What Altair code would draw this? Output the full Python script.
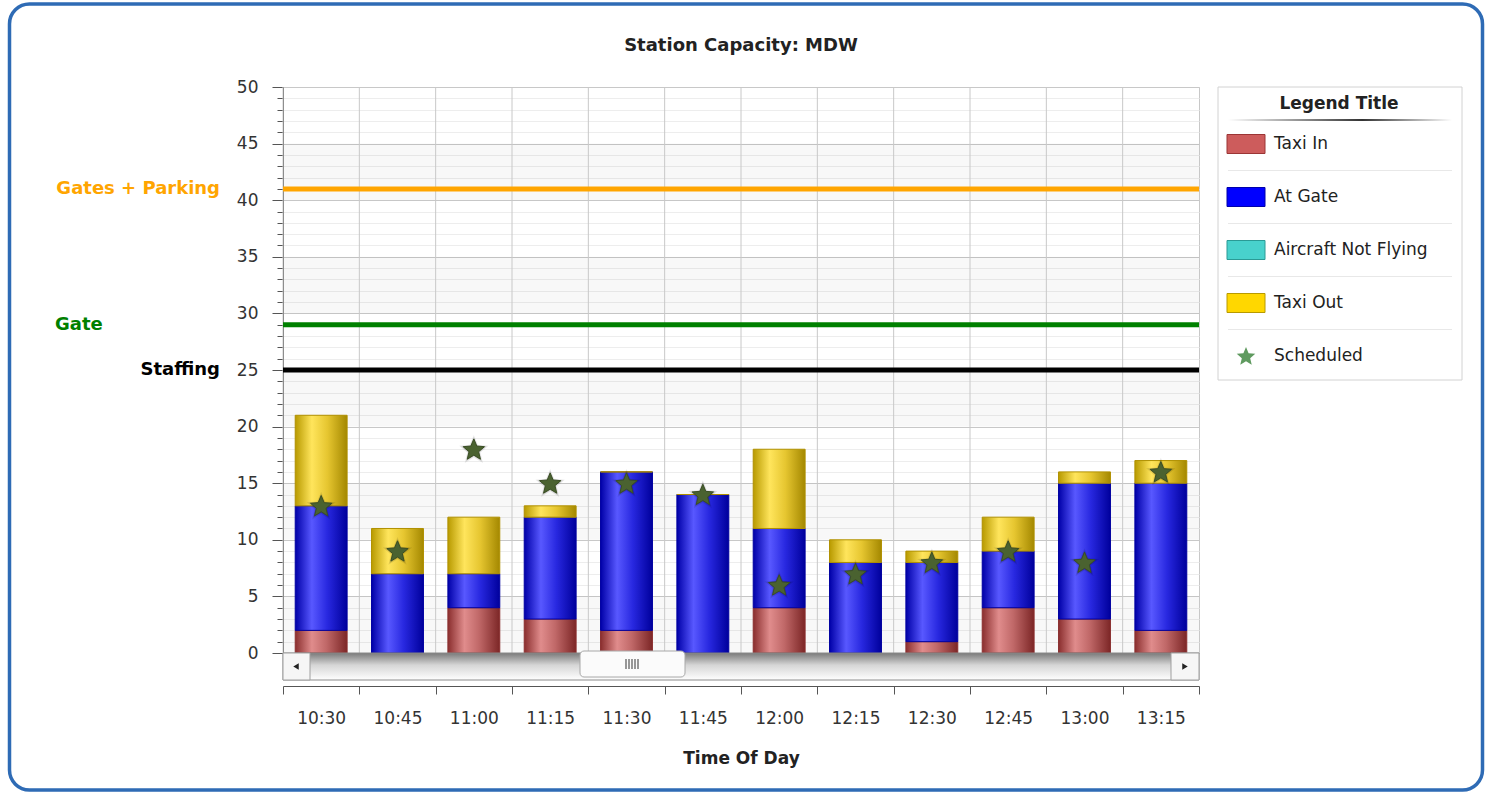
import math
import altair as alt
import pandas as pd

# ---------------- data ----------------
times = ["10:30", "10:45", "11:00", "11:15", "11:30", "11:45",
         "12:00", "12:15", "12:30", "12:45", "13:00", "13:15"]
taxi_in = [2, 0, 4, 3, 2, 0, 4, 0, 1, 4, 3, 2]
at_gate = [11, 7, 3, 9, 14, 14, 7, 8, 7, 5, 12, 13]
taxi_out = [8, 4, 5, 1, 0, 0, 7, 2, 1, 3, 1, 2]
scheduled = [13, 9, 18, 15, 15, 14, 6, 7, 8, 9, 8, 16]

stack_series = ["Taxi In", "At Gate", "Taxi Out"]
legend_names = ["Taxi In", "At Gate", "Aircraft Not Flying", "Taxi Out", "Scheduled"]

ref_names = ["Gates + Parking", "Gate", "Staffing"]
ref_values = [41, 29, 25]

y_ticks = list(range(0, 51))
band_starts = [0, 10, 20, 30, 40]

title_text = "Station Capacity: MDW"
x_title = "Time Of Day"
legend_title = "Legend Title"

# ---------------- tables ----------------
rows = []
for i, t in enumerate(times):
    for k, (s, vals) in enumerate(zip(stack_series, [taxi_in, at_gate, taxi_out])):
        rows.append({"time": t, "series": s, "value": vals[i], "order": k})
stack_df = pd.DataFrame(rows)
sched_df = pd.DataFrame({"time": times, "scheduled": scheduled})
ref_df = pd.DataFrame({"name": ref_names, "value": ref_values})
band_df = pd.DataFrame({"lo": band_starts})
time_df = pd.DataFrame({"time": times})
legend_df = pd.DataFrame({"name": legend_names, "idx": list(range(len(legend_names)))})
one = pd.DataFrame({"a": [0]})

W, H = 916, 566
FONT = "DejaVu Sans"

# 5-point star symbol path in the unit square
_pts = []
for k in range(10):
    r = 1.0 if k % 2 == 0 else 0.45
    ang = math.radians(-90 + 36 * k)
    _pts.append(f"{r * math.cos(ang):.3f},{r * math.sin(ang) + 0.08:.3f}")
STAR = "M" + "L".join(_pts) + "Z"

XS = alt.Scale(type="band", domain=times, paddingInner=0, paddingOuter=0)
YS = alt.Scale(domain=[0, 50], nice=False, zero=True)

XAX = alt.Axis(title=x_title, orient="bottom", tickBand="extent", offset=33, grid=False,
               domainColor="#555", tickColor="#555", tickSize=8,
               labelFontSize=17, labelPadding=16, labelAngle=0, labelColor="#333",
               titleFontSize=17, titleFontWeight="bold", titlePadding=24, titleColor="#222")
YAX = alt.Axis(title=None, orient="left", values=y_ticks,
               labelExpr="datum.value % 5 === 0 ? datum.label : ''",
               tickSize={"condition": {"test": "datum.value % 5 === 0", "value": 11}, "value": 6},
               gridColor={"condition": {"test": "datum.value % 5 === 0", "value": "#c8c8c8"}, "value": "#ededed"},
               grid=True, domainColor="#555", tickColor="#555",
               labelFontSize=17, labelColor="#333", labelPadding=14)


def hgrad(stops):
    return alt.Gradient(gradient="linear", x1=0, x2=1, y1=0, y2=0,
                        stops=[alt.GradientStop(offset=o, color=c) for o, c in stops])


def vgrad(stops):
    return alt.Gradient(gradient="linear", x1=0, x2=0, y1=0, y2=1,
                        stops=[alt.GradientStop(offset=o, color=c) for o, c in stops])


grads = {
    "Taxi In": (hgrad([(0, "#8a2e2e"), (0.32, "#e08c8c"), (0.6, "#c06868"), (1, "#7c2626")]), "#8b3030"),
    "At Gate": (hgrad([(0, "#0000a8"), (0.32, "#5858ff"), (0.62, "#2828e0"), (1, "#00009c")]), "#0000a0"),
    "Taxi Out": (hgrad([(0, "#b89a00"), (0.32, "#ffe55c"), (0.62, "#e6c630"), (1, "#a48800")]), "#b09000"),
}

# background alternating bands
bands = alt.Chart(band_df).transform_calculate(hi="datum.lo + 5").mark_rect(
    color="#000", opacity=0.028
).encode(y=alt.Y("lo:Q", scale=YS, axis=YAX), y2="hi:Q")

vgrid = alt.Chart(time_df).mark_rule(color="#c8c8c8", strokeWidth=1).encode(
    x=alt.X("time:N", scale=XS, axis=XAX, bandPosition=0, sort=times)
)

base = alt.Chart(stack_df).transform_stack(
    stack="value", groupby=["time"], as_=["y0", "y1"], sort=[alt.SortField("order", order="ascending")]
)
bar_layers = []
for s in stack_series:
    g, sc = grads[s]
    bar_layers.append(
        base.transform_filter(alt.datum.series == s).mark_bar(
            fill=g, stroke=sc, strokeWidth=1, width=alt.RelativeBandSize(0.68)
        ).encode(
            x=alt.X("time:N", scale=XS, axis=XAX, sort=times),
            y=alt.Y("y0:Q", scale=YS, axis=YAX),
            y2="y1:Q",
        )
    )

ref_colors = {"Gates + Parking": "#ffa500", "Gate": "#008000", "Staffing": "#000000"}
ref_layers = []
for n in ref_names:
    c = ref_colors[n]
    ref_layers.append(
        alt.Chart(ref_df).transform_filter(alt.datum.name == n).mark_rule(color=c, strokeWidth=5).encode(
            y=alt.Y("value:Q", scale=YS, axis=YAX)
        )
    )
    if n == "Gate":
        tx = alt.Chart(ref_df).transform_filter(alt.datum.name == n).mark_text(
            align="left", baseline="middle", fontSize=18, fontWeight="bold", color=c, font=FONT
        ).encode(x=alt.value(-228), y=alt.Y("value:Q", scale=YS, axis=YAX), text="name:N")
    else:
        tx = alt.Chart(ref_df).transform_filter(alt.datum.name == n).mark_text(
            align="right", baseline="middle", fontSize=18, fontWeight="bold", color=c, font=FONT
        ).encode(x=alt.value(-63), y=alt.Y("value:Q", scale=YS, axis=YAX), text="name:N")
    ref_layers.append(tx)

# stars
star_x = alt.X("time:N", scale=XS, axis=XAX, sort=times)
star_y = alt.Y("scheduled:Q", scale=YS, axis=YAX)
shadow1 = alt.Chart(sched_df).mark_point(shape=STAR, filled=True, size=950, color="#000", opacity=0.09).encode(
    x=star_x, y=star_y)
shadow2 = alt.Chart(sched_df).mark_point(shape=STAR, filled=True, size=700, color="#000", opacity=0.16).encode(
    x=star_x, y=star_y)
stars = alt.Chart(sched_df).mark_point(shape=STAR, filled=True, size=500, color="#4a6230",
                                       stroke="#3a4e24", strokeWidth=1, opacity=1).encode(
    x=star_x, y=star_y)

# scrollbar decoration
track = alt.Chart(one).mark_rect(fill=vgrad([(0, "#7a7a7a"), (0.45, "#d6d6d6"), (1, "#ffffff")]),
                                 stroke="#8a8a8a", strokeWidth=1).encode(
    x=alt.value(0), x2=alt.value(W), y=alt.value(H), y2=alt.value(H + 27))
lbtn = alt.Chart(one).mark_rect(fill="#f6f6f6", stroke="#a0a0a0", strokeWidth=1).encode(
    x=alt.value(0), x2=alt.value(27), y=alt.value(H), y2=alt.value(H + 27))
rbtn = alt.Chart(one).mark_rect(fill="#f6f6f6", stroke="#a0a0a0", strokeWidth=1).encode(
    x=alt.value(W - 28), x2=alt.value(W), y=alt.value(H), y2=alt.value(H + 27))
larr = alt.Chart(one).mark_point(shape="triangle-left", filled=True, color="#222", size=40, opacity=1).encode(
    x=alt.value(13), y=alt.value(H + 13.5))
rarr = alt.Chart(one).mark_point(shape="triangle-right", filled=True, color="#222", size=40, opacity=1).encode(
    x=alt.value(W - 14), y=alt.value(H + 13.5))
thumb = alt.Chart(one).mark_rect(fill="#fbfbfb", stroke="#a8a8a8", strokeWidth=1, cornerRadius=4).encode(
    x=alt.value(297), x2=alt.value(402), y=alt.value(H - 2), y2=alt.value(H + 24))
grip = [
    alt.Chart(one).mark_rule(color="#555", strokeWidth=1.2).encode(
        x=alt.value(343 + 3 * j), y=alt.value(H + 6), y2=alt.value(H + 16))
    for j in range(5)
]

# frame, title
border = alt.Chart(one).mark_rect(fill="transparent", stroke="#2e6bb5", strokeWidth=3.5, cornerRadius=20).encode(
    x=alt.value(-273.5), x2=alt.value(1199.5), y=alt.value(-83), y2=alt.value(703))
title = alt.Chart(one).mark_text(text=title_text, fontSize=18, fontWeight="bold", color="#222",
                                 font=FONT, align="center", baseline="middle").encode(
    x=alt.value(W / 2), y=alt.value(-41))

# manual legend
LEG_TOP, LEG_STEP = 57, 53
legbox = alt.Chart(one).mark_rect(fill="white", stroke="#d2d2d2", strokeWidth=1).encode(
    x=alt.value(935), x2=alt.value(1179), y=alt.value(0), y2=alt.value(293))
legtitle = alt.Chart(one).mark_text(text=legend_title, fontSize=17, fontWeight="bold", color="#222",
                                    font=FONT, align="center", baseline="middle").encode(
    x=alt.value(1056), y=alt.value(17))
legline = alt.Chart(one).mark_rect(fill=hgrad([(0, "#ffffff"), (0.6, "#333333"), (1, "#ffffff")])).encode(
    x=alt.value(945), x2=alt.value(1169), y=alt.value(32), y2=alt.value(34))
legbase = alt.Chart(legend_df).transform_calculate(
    yc=f"{LEG_TOP} + {LEG_STEP} * datum.idx",
    ya=f"{LEG_TOP} + {LEG_STEP} * datum.idx - 9.5",
    yb=f"{LEG_TOP} + {LEG_STEP} * datum.idx + 9.5",
    ys=f"{LEG_TOP} + {LEG_STEP} * datum.idx + 26.5",
)
legsep = legbase.transform_filter("datum.idx < 4").mark_rule(color="#e8e8e8", strokeWidth=1).encode(
    x=alt.value(945), x2=alt.value(1169), y=alt.Y("ys:Q", scale=None))
legsym = legbase.transform_filter("datum.idx < 4").mark_rect(strokeWidth=1).encode(
    x=alt.value(944), x2=alt.value(982),
    y=alt.Y("ya:Q", scale=None), y2="yb:Q",
    fill=alt.Fill("name:N", legend=None, scale=alt.Scale(
        domain=legend_names, range=["#cd5c5c", "#0000ff", "#48d1cc", "#ffd700", "#5f9a5f"])),
    stroke=alt.Stroke("name:N", legend=None, scale=alt.Scale(
        domain=legend_names, range=["#9b3535", "#0000aa", "#2a9a95", "#b89a00", "#3b6a3b"])),
)
legstar = legbase.transform_filter("datum.idx == 4").mark_point(
    shape=STAR, filled=True, color="#5f9a5f", size=380, opacity=1).encode(
    x=alt.value(963), y=alt.Y("yc:Q", scale=None))
leglab = legbase.mark_text(align="left", baseline="middle", fontSize=17, color="#222", font=FONT).encode(
    x=alt.value(991), y=alt.Y("yc:Q", scale=None), text="name:N")

chart = alt.layer(
    bands, vgrid, *bar_layers, *ref_layers, shadow1, shadow2, stars,
    track, lbtn, rbtn, larr, rarr, thumb, *grip,
    border, title, legbox, legtitle, legline, legsep, legsym, legstar, leglab,
).properties(
    width=W, height=H,
    autosize=alt.AutoSizeParams(type="none"),
    padding={"left": 283, "top": 87, "right": 1488 - 283 - W, "bottom": 792 - 87 - H},
).configure(font=FONT).configure_view(stroke="#c8c8c8", strokeWidth=1)

chart.save("out.html", embed_options={"renderer": "svg", "actions": False})
